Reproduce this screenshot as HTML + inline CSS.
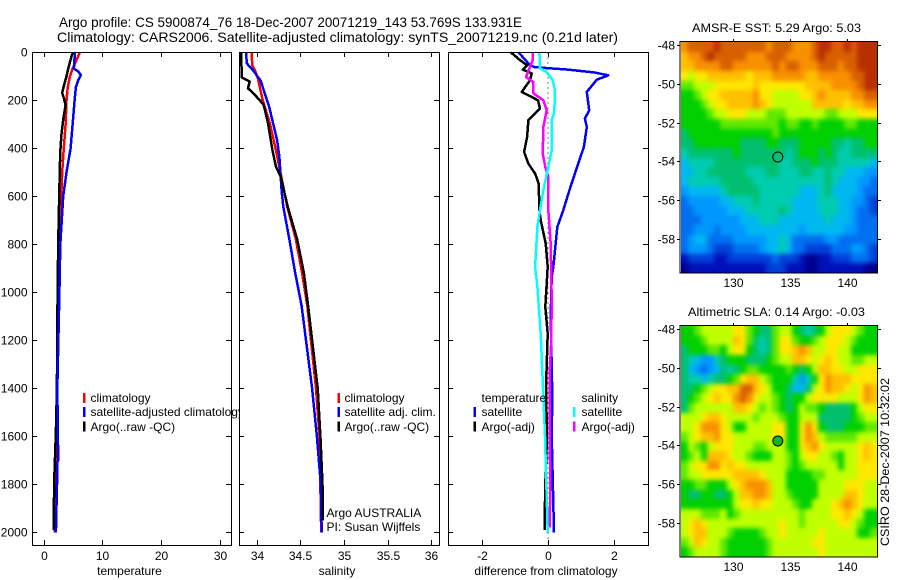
<!DOCTYPE html>
<html lang="en">
<head>
<meta charset="utf-8">
<title>Argo profile CS 5900874_76</title>
<style>
html,body{margin:0;padding:0;background:#fff;width:900px;height:580px;overflow:hidden}
svg{display:block}
text{font-family:"Liberation Sans",sans-serif;font-size:12px;fill:#000}
.title{font-size:14px}
</style>
</head>
<body>
<svg id="figure" xmlns="http://www.w3.org/2000/svg" width="900" height="580" viewBox="0 0 900 580">
  <defs>
    <filter id="soften" filterUnits="userSpaceOnUse" x="640" y="0" width="260" height="580" color-interpolation-filters="sRGB">
      <feGaussianBlur stdDeviation="2.4"/>
    </filter>
    <clipPath id="clip-sst-map"><rect x="681" y="42" width="196" height="231"/></clipPath>
    <clipPath id="clip-sla-map"><rect x="681" y="326" width="196" height="231"/></clipPath>
  </defs>
  <rect x="0" y="0" width="900" height="580" fill="#fff"/>
  <text class="title" x="59" y="27" textLength="463" lengthAdjust="spacingAndGlyphs">Argo profile: CS 5900874_76 18-Dec-2007 20071219_143 53.769S 133.931E</text>
  <text class="title" x="57" y="42" textLength="561" lengthAdjust="spacingAndGlyphs">Climatology: CARS2006. Satellite-adjusted climatology: synTS_20071219.nc (0.21d later)</text>
  <g id="panel-temp"></g>
  <g id="panel-sal"></g>
  <g id="panel-diff"></g>
  <g id="map-sst"></g>
  <g id="map-sla"></g>
  <text x="692" y="32" textLength="169" lengthAdjust="spacingAndGlyphs">AMSR-E SST: 5.29 Argo: 5.03</text>
  <text x="688" y="316" textLength="177" lengthAdjust="spacingAndGlyphs">Altimetric SLA: 0.14 Argo: -0.03</text>
  <text transform="translate(889 546) rotate(-90)" textLength="168" lengthAdjust="spacingAndGlyphs">CSIRO 28-Dec-2007 10:32:02</text>
</svg>
<script>
// ---- axis ticks ----
const depthTicks = [0, 200, 400, 600, 800, 1000, 1200, 1400, 1600, 1800, 2000];
const tempTicks = [0, 10, 20, 30];
const salTicks = [34, 34.5, 35, 35.5, 36];
const diffTicks = [-2, 0, 2];
const lonTicks = [130, 135, 140];
const latTicks = [-48, -50, -52, -54, -56, -58];

// ---- temperature panel series ----
const tempClimDepth = [0, 68, 100, 150, 200, 300, 400, 500, 600, 800, 1000, 1400, 1800, 2000];
const tempClimValues = [6.18, 4.94, 4.48, 4.09, 3.9, 3.75, 3.45, 3.17, 3.0, 2.7, 2.55, 2.35, 2.1, 1.9];
const tempSatDepth = [0, 68, 80, 95, 115, 145, 200, 300, 400, 500, 600, 800, 1000, 1400, 1700, 1710, 1800, 2000];
const tempSatValues = [5.33, 5.16, 5.9, 6.35, 5.9, 5.5, 5.28, 4.94, 4.6, 3.9, 3.34, 2.85, 2.7, 2.35, 2.5, 2.3, 2.3, 2.1];
const tempArgoDepth = [0, 68, 100, 150, 170, 190, 220, 280, 340, 420, 600, 800, 1000, 1400, 1580, 1800, 1990];
const tempArgoValues = [4.94, 4.2, 3.9, 3.35, 3.17, 3.45, 3.75, 3.35, 3.06, 2.83, 2.66, 2.5, 2.4, 2.27, 2.1, 1.8, 1.75];

// ---- salinity panel series ----
const salClimDepth = [0, 54, 76, 111, 201, 295, 407, 505, 643, 780, 917, 1056, 1400, 1600, 2000];
const salClimValues = [33.94, 33.95, 33.98, 34.015, 34.07, 34.15, 34.22, 34.275, 34.35, 34.45, 34.52, 34.58, 34.68, 34.72, 34.74];
const salSatDepth = [0, 46, 76, 118, 229, 368, 437, 576, 643, 780, 917, 1056, 1400, 1600, 1800, 2000];
const salSatValues = [33.88, 33.885, 33.96, 34.045, 34.145, 34.235, 34.26, 34.285, 34.305, 34.375, 34.44, 34.515, 34.635, 34.69, 34.735, 34.745];
const salArgoDepth = [0, 105, 122, 150, 178, 219, 295, 407, 476, 518, 643, 780, 917, 1056, 1400, 1600, 1800, 1950];
const salArgoValues = [33.82, 33.83, 33.92, 33.9, 33.98, 34.08, 34.13, 34.18, 34.22, 34.275, 34.355, 34.465, 34.54, 34.59, 34.7, 34.73, 34.755, 34.76];

// ---- difference panel series ----
const diffTempSatDepth = [0, 54, 62, 72, 84, 96, 114, 165, 242, 276, 311, 394, 505, 589, 658, 728, 894, 936, 1100, 1436, 1600, 2000];
const diffTempSatValues = [-0.89, -0.54, -0.4, 0.6, 1.4, 1.82, 1.47, 1.17, 1.24, 1.11, 1.17, 1.08, 0.81, 0.61, 0.46, 0.28, 0.16, 0.11, 0.08, 0.13, 0.11, 0.18];
const diffTempArgoDepth = [0, 33, 54, 72, 88, 116, 165, 179, 200, 235, 283, 353, 415, 464, 505, 547, 658, 700, 797, 894, 1061, 1172, 1394, 1600, 1800, 1950, 1990];
const diffTempArgoValues = [-1.12, -0.84, -0.63, -0.76, -0.49, -0.54, -0.79, -0.59, -0.3, -0.24, -0.59, -0.63, -0.72, -0.59, -0.39, -0.28, -0.26, -0.22, -0.07, -0.01, -0.08, -0.01, -0.06, -0.03, -0.08, -0.1, -0.09];
const diffSalSatDepth = [0, 67, 82, 116, 158, 249, 283, 408, 478, 561, 658, 728, 894, 978, 1172, 1436, 1600, 2000];
const diffSalSatValues = [-0.26, -0.24, -0.04, 0.14, 0.21, 0.19, 0.11, 0.11, 0.01, -0.12, -0.24, -0.32, -0.39, -0.32, -0.22, -0.14, -0.09, -0.01];
const diffSalArgoDepth = [0, 33, 67, 103, 124, 171, 200, 242, 311, 422, 478, 519, 658, 797, 1033, 1200, 1311, 1600, 1800, 1980];
const diffSalArgoValues = [-0.46, -0.46, -0.56, -0.66, -0.44, -0.44, -0.14, -0.04, -0.14, -0.16, -0.08, 0.01, 0.01, 0.08, 0.11, 0.1, 0.06, 0.05, 0.07, 0.05];
const zeroLineDepth = [0, 2045];

// ---- map values (colour-scale levels 0-15; 30 longitudes x 24 latitudes) ----
const argoPosition = [133.93, -53.77];
const sstLevels = [
[13,14,14,14,14,15,14,14,14,14,14,14,14,13,14,14,14,13,13,13,14,15,15,14,14,15,14,15,15,15],
[12,13,13,14,15,14,14,14,14,14,13,13,13,14,14,14,13,13,13,13,14,15,14,14,14,14,14,15,15,15],
[12,12,13,13,13,13,14,14,13,13,13,13,13,13,14,13,14,14,13,13,13,14,14,14,13,14,14,15,15,15],
[11,10,11,11,12,12,12,12,12,12,11,12,12,12,13,13,13,13,13,12,12,13,13,13,13,13,14,14,15,15],
[9,9,10,10,10,11,11,11,11,11,11,12,11,11,11,11,11,11,11,12,12,12,12,13,13,13,13,14,15,15],
[8,8,9,10,11,11,12,12,12,12,12,13,11,11,10,10,10,10,11,11,12,13,12,12,12,12,13,13,14,14],
[8,8,8,9,10,11,11,12,12,12,12,13,12,11,10,10,10,10,10,10,12,12,12,12,12,11,12,12,13,13],
[8,8,8,8,9,10,10,11,11,11,10,10,10,9,9,9,10,10,10,10,10,10,9,9,10,10,10,11,11,11],
[8,8,8,8,8,8,9,9,9,9,9,9,9,9,9,8,9,9,8,8,9,8,8,8,8,9,9,8,8,8],
[7,8,8,8,8,8,8,8,8,8,8,8,8,8,9,8,8,8,8,8,8,8,8,8,8,8,8,8,8,8],
[7,7,8,8,8,8,8,8,8,7,7,7,7,8,8,7,7,7,8,8,8,8,8,7,7,6,7,7,8,8],
[6,7,7,7,7,7,7,7,8,7,7,7,7,7,7,7,6,7,8,8,8,7,8,7,6,6,7,7,7,7],
[5,6,6,6,6,7,7,7,7,7,7,7,7,7,7,6,6,7,7,7,8,7,7,7,6,6,6,6,6,5],
[5,5,6,6,7,7,7,7,7,7,6,6,6,7,7,6,6,6,7,7,6,6,7,6,6,5,5,5,4,4],
[5,6,6,6,6,6,7,7,7,7,7,6,6,6,6,6,6,6,6,6,6,6,7,6,5,5,5,4,4,3],
[4,5,5,5,5,5,6,7,7,7,7,7,6,6,6,6,6,6,5,5,5,6,7,5,5,5,5,4,3,3],
[3,4,4,4,4,4,5,5,6,6,6,7,6,6,6,6,6,5,5,5,5,6,6,6,5,5,4,4,3,2],
[3,3,4,4,4,4,4,5,5,5,6,6,6,6,6,7,6,5,5,5,5,6,6,6,5,5,4,3,3,2],
[3,3,3,4,4,4,4,4,4,5,5,5,6,6,6,5,5,5,5,5,5,5,6,5,5,5,4,3,3,3],
[3,3,4,4,4,3,4,4,4,4,5,5,5,5,5,5,5,5,4,5,5,5,5,5,5,4,4,3,3,3],
[3,4,5,5,3,3,3,3,4,4,4,4,4,5,5,6,5,3,3,3,3,3,4,4,3,3,3,3,3,3],
[3,4,4,4,3,2,2,2,3,3,3,3,4,5,5,6,5,3,3,2,2,2,2,3,3,3,4,4,3,2],
[1,2,2,2,2,1,1,2,2,2,2,2,2,2,3,2,2,2,1,0,0,1,1,2,2,2,3,3,3,2],
[0,1,1,1,1,1,1,1,1,1,1,1,1,2,2,2,1,1,1,0,0,1,1,1,1,1,1,1,0,0]
];
const slaLevels = [
[8,8,9,10,10,10,10,10,11,11,9,8,7,7,9,10,10,8,7,6,7,8,10,11,11,11,10,9,8,8],
[8,8,8,9,10,10,10,10,12,11,9,7,6,7,9,11,11,9,8,8,9,10,11,11,11,10,9,8,8,8],
[7,8,8,8,9,9,8,10,11,11,8,7,6,7,9,11,11,12,13,12,10,10,11,11,10,10,8,8,8,8],
[7,6,5,4,4,6,7,8,8,8,7,7,7,8,9,10,10,12,12,11,10,11,12,11,10,10,9,9,10,10],
[7,5,4,3,4,5,7,6,7,8,9,9,8,8,8,8,9,8,7,8,10,12,12,11,11,10,10,11,11,11],
[7,6,6,5,6,7,7,8,9,11,12,12,10,9,8,8,8,6,4,6,8,11,13,12,12,12,11,11,11,11],
[7,7,8,9,10,11,11,12,12,14,14,12,11,10,8,8,7,5,5,7,10,11,13,12,12,11,10,11,13,12],
[7,8,9,10,11,12,11,11,13,14,13,11,10,10,9,8,7,8,8,10,11,11,11,11,10,10,10,11,13,12],
[7,9,10,10,10,10,10,10,12,12,11,10,9,10,9,8,7,8,10,9,9,8,7,7,7,7,8,10,11,11],
[10,10,10,11,12,12,11,10,10,10,10,9,10,10,10,9,8,8,10,10,10,7,7,7,7,7,8,9,10,10],
[10,10,11,13,13,13,11,10,8,8,10,10,10,10,11,11,8,8,11,13,11,8,7,7,7,8,8,8,9,9],
[9,10,11,12,12,13,11,11,10,10,10,10,10,10,11,11,8,8,11,13,12,10,9,9,9,9,9,10,10,10],
[8,10,9,8,10,11,11,11,10,10,10,9,9,10,10,10,8,8,11,12,13,11,10,10,10,10,10,11,12,11],
[8,9,10,8,12,12,12,11,10,10,9,8,8,8,10,10,9,8,10,11,11,10,10,9,8,10,10,11,12,11],
[9,10,11,11,13,13,11,12,11,11,10,10,10,10,10,10,9,8,9,10,10,10,10,10,8,10,10,11,11,11],
[9,10,10,11,11,11,11,11,12,12,12,12,11,10,10,10,8,8,8,8,9,9,10,10,10,10,10,11,11,11],
[8,8,9,9,8,8,8,10,11,12,13,13,13,12,10,10,8,8,8,8,8,10,10,10,10,11,11,11,10,10],
[8,7,7,8,8,7,7,8,10,12,12,13,13,12,10,10,9,8,8,8,8,10,10,10,10,12,12,11,10,10],
[8,8,8,8,8,8,8,8,10,11,11,12,11,11,10,10,10,9,8,8,10,10,10,11,12,13,12,11,10,10],
[10,10,10,9,9,9,10,8,9,10,10,10,10,10,10,10,10,10,9,10,10,10,10,11,11,12,11,10,8,8],
[10,11,12,11,10,10,10,10,10,10,10,10,10,10,10,11,10,10,9,10,10,10,10,10,11,11,10,9,8,8],
[10,11,12,12,10,10,10,9,8,8,8,8,9,10,10,11,10,10,10,10,10,11,10,10,10,10,10,8,8,9],
[9,10,12,11,10,10,9,8,8,8,8,8,8,9,10,10,10,10,10,10,11,11,10,10,10,10,10,10,10,10],
[8,9,10,10,10,10,9,8,8,8,8,8,8,9,10,10,10,10,10,10,10,11,10,10,10,10,10,10,10,10]
];

// ---- helpers ----
const NS = 'http://www.w3.org/2000/svg';
function mk(parent, tag, attrs, name) {
  const el = document.createElementNS(NS, tag);
  for (const k in attrs) el.setAttribute(k, attrs[k]);
  
  
  parent.appendChild(el);
  return el;
}
function label(parent, x, y, str, anchor, name) {
  const t = mk(parent, 'text', {x: x, y: y, 'text-anchor': anchor || 'start'}, name);
  t.textContent = str;
  return t;
}
const panelTop = 52, panelBottom = 545;
const depthY = d => 52.3 + 0.24 * d;

function linePath(parent, depths, values, xFn, color, width, name) {
  const pts = depths.map((d, i) => xFn(values[i]).toFixed(1) + ',' + depthY(d).toFixed(1)).join(' ');
  return mk(parent, 'polyline', {points: pts, fill: 'none', stroke: color, 'stroke-width': width,
    'stroke-linejoin': 'round', 'shape-rendering': 'crispEdges'}, name);
}
function legendBar(parent, x, y, color, name) {
  mk(parent, 'rect', {x: x, y: y, width: 2.5, height: 10, fill: color, 'shape-rendering': 'crispEdges'}, name);
}
function drawFrame(g, left, right, prefix) {
  mk(g, 'rect', {x: left, y: panelTop, width: right - left, height: panelBottom - panelTop,
    fill: '#fff', stroke: 'none'}, prefix + '-background');
}
function drawAxes(g, left, right, xFn, xTicks, showDepthLabels, xTitle, prefix) {
  mk(g, 'rect', {x: left + 0.5, y: panelTop + 0.5, width: right - left, height: panelBottom - panelTop,
    fill: 'none', stroke: '#000', 'stroke-width': 1, 'shape-rendering': 'crispEdges'}, prefix + '-frame');
  depthTicks.forEach(d => {
    const y = Math.round(depthY(d)) + 0.5;
    mk(g, 'line', {x1: left, x2: left + 5, y1: y, y2: y, stroke: '#000', 'shape-rendering': 'crispEdges'}, prefix + '-depth-tick-left');
    mk(g, 'line', {x1: right - 5, x2: right, y1: y, y2: y, stroke: '#000', 'shape-rendering': 'crispEdges'}, prefix + '-depth-tick-right');
    if (showDepthLabels) label(g, 27.5, y + 4, String(d), 'end', 'depth-tick-label');
  });
  xTicks.forEach(v => {
    const x = Math.round(xFn(v)) + 0.5;
    mk(g, 'line', {x1: x, x2: x, y1: panelTop, y2: panelTop + 5, stroke: '#000', 'shape-rendering': 'crispEdges'}, prefix + '-x-tick-top');
    mk(g, 'line', {x1: x, x2: x, y1: panelBottom - 5, y2: panelBottom, stroke: '#000', 'shape-rendering': 'crispEdges'}, prefix + '-x-tick-bottom');
    label(g, x, 560, String(v), 'middle', prefix + '-x-tick-label');
  });
  label(g, (left + right) / 2 - 2, 575, xTitle, 'middle', prefix + '-x-axis-title');
}

// ---- scales ----
const tempX = v => 43.5 + 5.89 * v;
const salX = v => 256.7 + 87.2 * (v - 34);
const diffX = v => 548 + 33.2 * v;

// ---- temperature panel ----
const gT = document.getElementById('panel-temp');
drawFrame(gT, 32, 231, 'temperature');
linePath(gT, tempClimDepth, tempClimValues, tempX, '#f00', 2.5, 'temperature-climatology-line');
linePath(gT, tempArgoDepth, tempArgoValues, tempX, '#000', 2.5, 'temperature-argo-line');
linePath(gT, tempSatDepth, tempSatValues, tempX, '#00f', 2.5, 'temperature-satellite-line');
legendBar(gT, 83, 393, '#f00', 'legend-bar-climatology');
label(gT, 90.5, 402, 'climatology', 'start', 'legend-climatology');
legendBar(gT, 83, 407, '#00f', 'legend-bar-satellite-adjusted');
label(gT, 90.5, 416, 'satellite-adjusted climatology', 'start', 'legend-satellite-adjusted');
legendBar(gT, 83, 421.5, '#000', 'legend-bar-argo');
label(gT, 90.5, 431, 'Argo(..raw -QC)', 'start', 'legend-argo');
drawAxes(gT, 32, 231, tempX, tempTicks, true, 'temperature', 'temperature');

// ---- salinity panel ----
const gS = document.getElementById('panel-sal');
drawFrame(gS, 239, 439, 'salinity');
linePath(gS, salClimDepth, salClimValues, salX, '#f00', 2.5, 'salinity-climatology-line');
linePath(gS, salSatDepth, salSatValues, salX, '#00f', 2.5, 'salinity-satellite-line');
linePath(gS, salArgoDepth, salArgoValues, salX, '#000', 2.5, 'salinity-argo-line');
legendBar(gS, 337.5, 393, '#f00', 'legend-bar-climatology');
label(gS, 344.5, 402, 'climatology', 'start', 'legend-climatology');
legendBar(gS, 337.5, 407, '#00f', 'legend-bar-satellite-adj');
label(gS, 344.5, 416, 'satellite adj. clim.', 'start', 'legend-satellite-adj');
legendBar(gS, 337.5, 421.5, '#000', 'legend-bar-argo');
label(gS, 344.5, 431, 'Argo(..raw -QC)', 'start', 'legend-argo');
label(gS, 326.5, 517, 'Argo AUSTRALIA', 'start', 'data-source-label');
label(gS, 326.5, 531, 'PI: Susan Wijffels', 'start', 'principal-investigator-label');
drawAxes(gS, 239, 439, salX, salTicks, false, 'salinity', 'salinity');

// ---- difference panel ----
const gD = document.getElementById('panel-diff');
drawFrame(gD, 448, 648, 'difference');
mk(gD, 'line', {x1: diffX(0), x2: diffX(0), y1: depthY(zeroLineDepth[0]), y2: depthY(zeroLineDepth[1]),
  stroke: '#000', 'stroke-width': 1, 'stroke-dasharray': '1 4', 'shape-rendering': 'crispEdges'}, 'zero-difference-line');
linePath(gD, diffTempSatDepth, diffTempSatValues, diffX, '#00f', 2.5, 'difference-temperature-satellite-line');
linePath(gD, diffTempArgoDepth, diffTempArgoValues, diffX, '#000', 2.5, 'difference-temperature-argo-line');
linePath(gD, diffSalArgoDepth, diffSalArgoValues, diffX, '#f0f', 2.5, 'difference-salinity-argo-line');
linePath(gD, diffSalSatDepth, diffSalSatValues, diffX, '#0ff', 2.5, 'difference-salinity-satellite-line');
label(gD, 481.5, 402, 'temperature', 'start', 'legend-heading-temperature');
label(gD, 581.5, 402, 'salinity', 'start', 'legend-heading-salinity');
legendBar(gD, 473.5, 407, '#00f', 'legend-bar-temperature-satellite');
label(gD, 481.5, 416, 'satellite', 'start', 'legend-temperature-satellite');
legendBar(gD, 473.5, 421.5, '#000', 'legend-bar-temperature-argo');
label(gD, 481.5, 431, 'Argo(-adj)', 'start', 'legend-temperature-argo');
legendBar(gD, 573, 407, '#0ff', 'legend-bar-salinity-satellite');
label(gD, 581.5, 416, 'satellite', 'start', 'legend-salinity-satellite');
legendBar(gD, 573, 421.5, '#f0f', 'legend-bar-salinity-argo');
label(gD, 581.5, 431, 'Argo(-adj)', 'start', 'legend-salinity-argo');
drawAxes(gD, 448, 648, diffX, diffTicks, false, 'difference from climatology', 'difference');

// ---- maps ----
function levelColor(v) {
  const ramp = ['#000090','#0010b8','#0040d8','#0070f0','#0098ff','#00b8f0','#00ccb0','#00c070',
                '#00d000','#60e800','#c0ff00','#ffe800','#ffc000','#f89000','#d86000','#b83000'];
  return ramp[Math.max(0, Math.min(15, Math.round(v)))];
}
function drawMap(g, top, bottom, tick48, levels, dotFill, prefix) {
  const left = 681, right = 877, bleed = 12;
  const lonX = lon => 733 + 11.4 * (lon - 130);
  const latY = lat => tick48 + 19.4 * (-48 - lat);
  const rows = levels.length;
  const clipGroup = mk(g, 'g', {'clip-path': 'url(#clip-' + prefix + ')'}, prefix + '-image-clip');
  const cellGroup = mk(clipGroup, 'g', {filter: 'url(#soften)'}, prefix + '-image');
  levels.forEach((row, r) => {
    const y0 = Math.round(top + (bottom - top) * r / rows) - (r === 0 ? bleed : 0);
    const y1 = Math.round(top + (bottom - top) * (r + 1) / rows) + (r === rows - 1 ? bleed : 0);
    row.forEach((v, c) => {
      const x0 = Math.round(left + (right - left) * c / row.length) - (c === 0 ? bleed : 0);
      const x1 = Math.round(left + (right - left) * (c + 1) / row.length) + (c === row.length - 1 ? bleed : 0);
      const cell = document.createElementNS(NS, 'rect');
      cell.setAttribute('x', x0);
      cell.setAttribute('y', y0);
      cell.setAttribute('width', x1 - x0);
      cell.setAttribute('height', y1 - y0);
      cell.setAttribute('fill', levelColor(v));
      cell.setAttribute('shape-rendering', 'crispEdges');
      
      
      cellGroup.appendChild(cell);
    });
  });
  mk(g, 'rect', {x: 680, y: top - 0.5, width: 197.5, height: bottom - top + 0.5, fill: 'none', stroke: '#000',
    'stroke-width': 1, 'shape-rendering': 'crispEdges'}, prefix + '-frame');
  lonTicks.forEach(lon => {
    const x = Math.round(lonX(lon)) + 0.5;
    mk(g, 'line', {x1: x, x2: x, y1: top - 3, y2: top, stroke: '#000', 'shape-rendering': 'crispEdges'}, prefix + '-lon-tick');
    label(g, x, bottom + 14, String(lon), 'middle', prefix + '-lon-tick-label');
  });
  latTicks.forEach(lat => {
    const y = Math.round(latY(lat)) + 0.5;
    mk(g, 'line', {x1: 677, x2: 680, y1: y, y2: y, stroke: '#000', 'shape-rendering': 'crispEdges'}, prefix + '-lat-tick-left');
    mk(g, 'line', {x1: 878, x2: 881, y1: y, y2: y, stroke: '#000', 'shape-rendering': 'crispEdges'}, prefix + '-lat-tick-right');
    label(g, 675, y + 4, String(lat), 'end', prefix + '-lat-tick-label');
  });
  mk(g, 'circle', {cx: lonX(argoPosition[0]), cy: latY(argoPosition[1]), r: 5, fill: dotFill, stroke: '#000', 'stroke-width': 1}, prefix + '-argo-marker');
}
drawMap(document.getElementById('map-sst'), 42, 273, 45, sstLevels, 'none', 'sst-map');
drawMap(document.getElementById('map-sla'), 326, 557, 329, slaLevels, '#10b820', 'sla-map');
</script>
</body>
</html>
